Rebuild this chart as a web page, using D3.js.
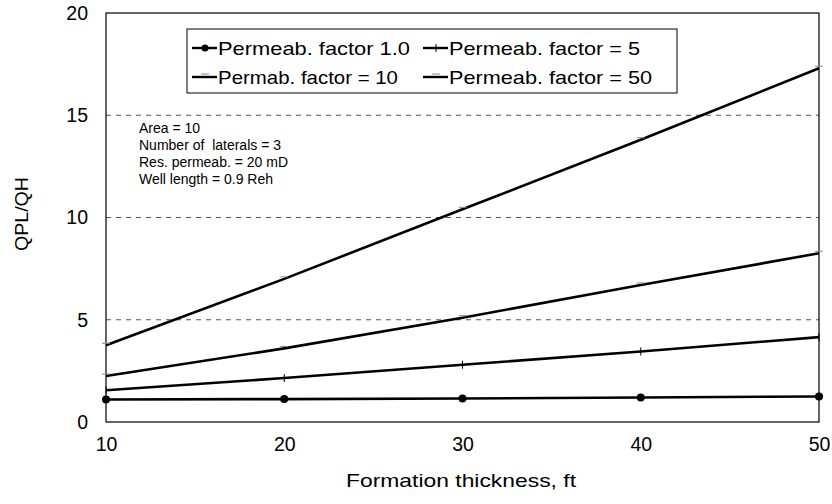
<!DOCTYPE html>
<html lang="en">
<head>
    <meta charset="UTF-8">
    <title>QPL/QH vs formation thickness</title>
    <script src="https://d3js.org/d3.v7.min.js"></script>
    <style>
        body { margin: 0; background: #fff; font-family: "Liberation Sans", Arial, sans-serif; }
        .tick text { font-size: 19.5px; fill: #000; }
        .grid line { stroke: #555; stroke-dasharray: 5,5; stroke-width: 1; }
        .series { fill: none; stroke: #000; stroke-width: 2.6; }
        .note { font-size: 14px; white-space: pre; }
    </style>
</head>
<body>
    <svg id="chart" width="832" height="504"></svg>
    <script>
        // data
        var thickness = [10, 20, 30, 40, 50];
        var factor1 = [1.1, 1.12, 1.15, 1.2, 1.25];
        var factor5 = [1.55, 2.15, 2.8, 3.45, 4.15];
        var factor10 = [2.25, 3.6, 5.1, 6.7, 8.25];
        var factor50 = [3.75, 7.0, 10.4, 13.8, 17.3];
        var seriesNames = ["Permeab. factor 1.0", "Permeab. factor = 5", "Permab. factor = 10", "Permeab. factor = 50"];
        var xTicks = [10, 20, 30, 40, 50];
        var yTicks = [0, 5, 10, 15, 20];
        var notes = ["Area = 10", "Number of  laterals = 3", "Res. permeab. = 20 mD", "Well length = 0.9 Reh"];

        var margin = {top: 13, right: 13, bottom: 82, left: 106},
            width = 832 - margin.left - margin.right,
            height = 504 - margin.top - margin.bottom;

        var svg = d3.select("#chart").append("g")
            .attr("transform", "translate(" + margin.left + "," + margin.top + ")");

        var x = d3.scaleLinear().domain([10, 50]).range([0, width]);
        var y = d3.scaleLinear().domain([0, 20]).range([height, 0]);

        // dashed grid lines
        svg.append("g").attr("class", "grid")
            .selectAll("line")
            .data([5, 10, 15])
            .enter().append("line")
            .attr("x1", 0).attr("x2", width)
            .attr("y1", function(d) { return y(d); })
            .attr("y2", function(d) { return y(d); });

        // plot border
        svg.append("rect")
            .attr("width", width).attr("height", height)
            .attr("fill", "none").attr("stroke", "#000").attr("stroke-width", 1.2);

        // axes
        svg.append("g")
            .attr("transform", "translate(0," + height + ")")
            .call(d3.axisBottom(x).tickValues(xTicks).tickSize(0).tickPadding(15))
            .call(g => g.select(".domain").remove());

        svg.append("g")
            .call(d3.axisLeft(y).tickValues(yTicks).tickSize(0).tickPadding(18))
            .call(g => g.select(".domain").remove());

        // axis titles
        svg.append("text")
            .attr("x", 346 - margin.left).attr("y", 487 - margin.top)
            .attr("textLength", 230).attr("lengthAdjust", "spacingAndGlyphs")
            .style("font-size", "19px")
            .text("Formation thickness, ft");

        svg.append("text")
            .attr("transform", "translate(-78," + (214 - margin.top) + ") rotate(-90)")
            .attr("text-anchor", "middle")
            .attr("textLength", 74).attr("lengthAdjust", "spacingAndGlyphs")
            .style("font-size", "18px")
            .text("QPL/QH");

        var allSeries = [factor1, factor5, factor10, factor50];
        var line = d3.line()
            .x(function(d, i) { return x(thickness[i]); })
            .y(function(d) { return y(d); });

        allSeries.forEach(function(vals, k) {
            svg.append("path").datum(vals).attr("class", "series").attr("d", line);
            var pts = svg.append("g").selectAll("g").data(vals).enter().append("g")
                .attr("transform", function(d, i) { return "translate(" + x(thickness[i]) + "," + y(d) + ")"; });
            if (k === 0) {
                pts.append("circle").attr("r", 4).attr("fill", "#000");
            } else if (k === 1) {
                pts.append("line").attr("y1", -4).attr("y2", 4).attr("stroke", "#000").attr("stroke-width", 1);
            } else {
                pts.append("line").attr("x1", -4).attr("x2", 4).attr("y1", -2).attr("y2", -2)
                    .attr("stroke", "#888").attr("stroke-width", 1);
            }
        });

        // notes
        svg.append("g").selectAll("text")
            .data(notes)
            .enter().append("text")
            .attr("class", "note")
            .attr("x", 139 - margin.left)
            .attr("y", function(d, i) { return 133 - margin.top + i * 17; })
            .text(function(d) { return d; });

        // legend
        var legend = svg.append("g").attr("transform", "translate(" + (187 - margin.left) + "," + (29 - margin.top) + ")");
        legend.append("rect")
            .attr("width", 490).attr("height", 64)
            .attr("fill", "#fff").attr("stroke", "#000").attr("stroke-width", 1);

        var legendPos = [[5, 19], [236, 19], [5, 48], [236, 48]];
        var legendLen = [192, 191, 180, 203];
        seriesNames.forEach(function(name, k) {
            var g = legend.append("g").attr("transform", "translate(" + legendPos[k][0] + "," + legendPos[k][1] + ")");
            g.append("line").attr("x1", 0).attr("x2", 25).attr("stroke", "#000").attr("stroke-width", 2.4);
            if (k === 0) g.append("circle").attr("cx", 13).attr("r", 3.5).attr("fill", "#000");
            if (k === 1) g.append("line").attr("x1", 13).attr("x2", 13).attr("y1", -4).attr("y2", 4)
                .attr("stroke", "#000").attr("stroke-width", 1);
            if (k > 1) g.append("line").attr("x1", 9).attr("x2", 17).attr("y1", -3).attr("y2", -3)
                .attr("stroke", "#888").attr("stroke-width", 1);
            g.append("text")
                .attr("x", 26).attr("y", 6.5)
                .attr("textLength", legendLen[k]).attr("lengthAdjust", "spacingAndGlyphs")
                .style("font-size", "18.5px")
                .text(name);
        });
    </script>
</body>
</html>
